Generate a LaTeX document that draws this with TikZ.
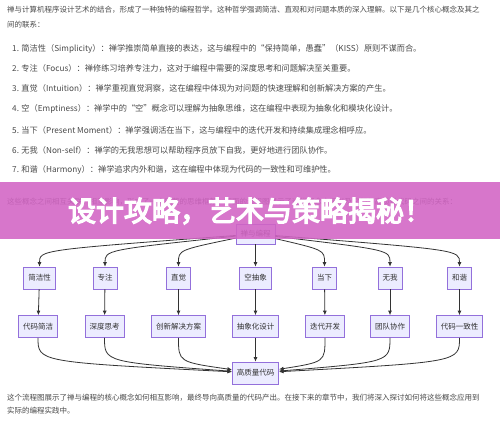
\documentclass[tikz,border=0pt]{standalone}
\usepackage{fontspec}
\setmainfont{Noto Sans CJK SC}[AutoFakeBold=3]
\newfontfamily\titlefont{Noto Sans CJK SC}[FakeBold=4.5]
\usetikzlibrary{arrows.meta}
\definecolor{mmfill}{HTML}{ECECFF}
\definecolor{mmborder}{HTML}{9370DB}
\definecolor{mmline}{HTML}{333333}
\definecolor{bodytext}{HTML}{4A4A4A}
\definecolor{bandpink}{RGB}{210,100,196}
\newcommand{\heavytext}[1]{\special{pdf:literal direct 2 Tr 1.3 w}#1\special{pdf:literal direct 0 Tr}}

\begin{document}
\begin{tikzpicture}[x=1pt,y=-1pt,
  para/.style={anchor=west,inner sep=0pt,font=\fontsize{7.5}{9}\selectfont,text=bodytext},
  listitem/.style={para,font=\fontsize{8.2}{10}\selectfont},
  box/.style={draw=mmborder,fill=mmfill,line width=0.6pt,minimum height=22pt,
    inner xsep=4.5pt,font=\fontsize{7.5}{9}\selectfont,text=mmline},
  arr/.style={-{Latex[length=4.5pt,width=4pt]},line width=0.8pt,mmline}
]
  \useasboundingbox (0,0) rectangle (500,422);
  \fill[white] (0,0) rectangle (500,422);
  % Text above the chart
  \node[para] (intro1) at (7,10) {禅与计算机程序设计艺术的结合，形成了一种独特的编程哲学。这种哲学强调简洁、直观和对问题本质的深入理解。以下是几个核心概念及其之};
  \node[para] (intro2) at (7,25) {间的联系：};
  \node[listitem] (item1) at (12,49) {1. 简洁性（Simplicity）：禅学推崇简单直接的表达，这与编程中的“保持简单，愚蠢”（KISS）原则不谋而合。};
  \node[listitem] (item2) at (12,68) {2. 专注（Focus）：禅修练习培养专注力，这对于编程中需要的深度思考和问题解决至关重要。};
  \node[listitem] (item3) at (12,88) {3. 直觉（Intuition）：禅学重视直觉洞察，这在编程中体现为对问题的快速理解和创新解决方案的产生。};
  \node[listitem] (item4) at (12,109) {4. 空（Emptiness）：禅学中的“空”概念可以理解为抽象思维，这在编程中表现为抽象化和模块化设计。};
  \node[listitem] (item5) at (12,130) {5. 当下（Present Moment）：禅学强调活在当下，这与编程中的迭代开发和持续集成理念相呼应。};
  \node[listitem] (item6) at (12,150) {6. 无我（Non-self）：禅学的无我思想可以帮助程序员放下自我，更好地进行团队协作。};
  \node[listitem] (item7) at (12,170) {7. 和谐（Harmony）：禅学追求内外和谐，这在编程中体现为代码的一致性和可维护性。};
  \node[para] (lead) at (7,202) {这些概念之间相互关联，相互影响，形成了一个完整的思维框架。下面的流程图展示了这些概念之间以及它们与高质量代码之间的关系：};
  % Chart
  \coordinate (topmid) at (0,250);
  \coordinate (botmid) at (0,362);
  \node[box,minimum height=20pt] (zen) at (255.5,234) {禅与编程};
  \node[box] (simp) at (39.5,278) {简洁性};
  \node[box] (focus) at (105,278) {专注};
  \node[box] (intu) at (178.5,278) {直觉};
  \node[box] (empt) at (255.5,278) {空抽象};
  \node[box] (pres) at (324.5,278) {当下};
  \node[box] (nself) at (390,278) {无我};
  \node[box] (harm) at (459.5,278) {和谐};
  \node[box] (csimp) at (38,326.5) {代码简洁};
  \node[box] (deep) at (104.5,326.5) {深度思考};
  \node[box] (innov) at (178.5,326.5) {创新解决方案};
  \node[box] (abstr) at (255.5,326.5) {抽象化设计};
  \node[box] (iter) at (325,326.5) {迭代开发};
  \node[box] (team) at (390,326.5) {团队协作};
  \node[box] (consis) at (459.5,326.5) {代码一致性};
  \node[box] (hq) at (255.5,373) {高质量代码};
  % Arrows
  \draw[arr] (zen) .. controls (simp |- topmid) .. (simp);
  \draw[arr] (zen) .. controls (focus |- topmid) .. (focus);
  \draw[arr] (zen) .. controls (intu |- topmid) .. (intu);
  \draw[arr] (zen) -- (empt);
  \draw[arr] (zen) .. controls (pres |- topmid) .. (pres);
  \draw[arr] (zen) .. controls (nself |- topmid) .. (nself);
  \draw[arr] (zen) .. controls (harm |- topmid) .. (harm);
  \draw[arr] (simp) -- (csimp);
  \draw[arr] (focus) -- (deep);
  \draw[arr] (intu) -- (innov);
  \draw[arr] (empt) -- (abstr);
  \draw[arr] (pres) -- (iter);
  \draw[arr] (nself) -- (team);
  \draw[arr] (harm) -- (consis);
  \draw[arr] (csimp) .. controls (csimp |- botmid) .. (hq);
  \draw[arr] (deep) .. controls (deep |- botmid) .. (hq);
  \draw[arr] (innov) .. controls (innov |- botmid) .. (hq);
  \draw[arr] (abstr) -- (hq);
  \draw[arr] (iter) .. controls (iter |- botmid) .. (hq);
  \draw[arr] (team) .. controls (team |- botmid) .. (hq);
  \draw[arr] (consis) .. controls (consis |- botmid) .. (hq);
  % Text below the chart
  \node[para] (outro1) at (7,398) {这个流程图展示了禅与编程的核心概念如何相互影响，最终导向高质量的代码产出。在接下来的章节中，我们将深入探讨如何将这些概念应用到};
  \node[para] (outro2) at (7,411) {实际的编程实践中。};
  % Banner
  \fill[bandpink,opacity=0.88] (0,182) rectangle (500,239);
  \node[text=white,font=\titlefont\fontsize{28}{30}\selectfont] (title) at (250,211) {\heavytext{设计攻略，艺术与策略揭秘！}};
\end{tikzpicture}
\end{document}
